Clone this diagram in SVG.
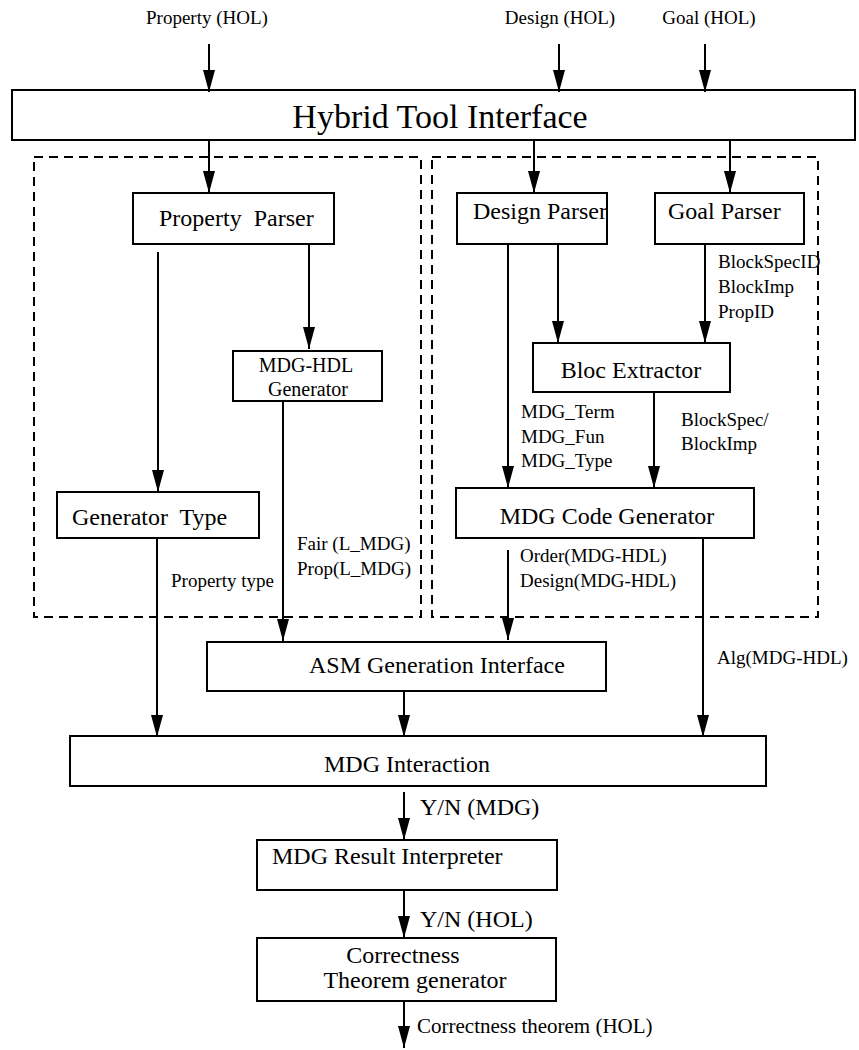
<svg xmlns="http://www.w3.org/2000/svg" width="859" height="1050" viewBox="0 0 859 1050">
<style>
  .box { fill: #ffffff; stroke: #000000; stroke-width: 2; }
  .dash { fill: none; stroke: #000000; stroke-width: 2; stroke-dasharray: 9 6; }
  .conn line { stroke: #000000; stroke-width: 2; marker-end: url(#arr); }
  text { font-family: "Liberation Serif", "Times New Roman", serif; fill: #000000; }
  .big { font-size: 34px; }
  .lbl { font-size: 24px; }
  .two { font-size: 20px; }
  .top { font-size: 19px; }
  .sm { font-size: 19px; }
  .mid { text-anchor: middle; }
</style>
<defs>
  <marker id="arr" markerUnits="userSpaceOnUse" markerWidth="22" markerHeight="12" refX="22" refY="6" orient="auto">
    <path d="M0,0 L22,6 L0,12 z" fill="#000000"/>
  </marker>
</defs>
<rect width="859" height="1050" fill="#ffffff"/>

<g id="groups">
  <rect class="dash" x="34" y="157" width="387" height="460"/>
  <rect class="dash" x="432" y="157" width="386" height="460"/>
</g>

<g id="inputs">
  <text class="top mid" x="207" y="24">Property (HOL)</text>
  <text class="top mid" x="560" y="24">Design (HOL)</text>
  <text class="top mid" x="709" y="24">Goal (HOL)</text>
</g>

<g id="hybrid-tool-interface">
  <rect class="box" x="12" y="90" width="843" height="50"/>
  <text class="big mid" x="440" y="128">Hybrid Tool Interface</text>
</g>

<g id="property-parser">
  <rect class="box" x="133" y="193" width="201" height="51"/>
  <text class="lbl" x="159" y="226" word-spacing="6">Property Parser</text>
</g>

<g id="design-parser">
  <rect class="box" x="457" y="193" width="150" height="51"/>
  <text class="lbl" x="473" y="219">Design Parser</text>
</g>

<g id="goal-parser">
  <rect class="box" x="655" y="193" width="149" height="51"/>
  <text class="lbl" x="668" y="219">Goal Parser</text>
</g>

<g id="mdg-hdl-generator">
  <rect class="box" x="233" y="351" width="149" height="50"/>
  <text class="two mid" x="306" y="372">MDG-HDL</text>
  <text class="two mid" x="308" y="396">Generator</text>
</g>

<g id="bloc-extractor">
  <rect class="box" x="533" y="343" width="197" height="49"/>
  <text class="lbl mid" x="631" y="378">Bloc Extractor</text>
</g>

<g id="generator-type">
  <rect class="box" x="57" y="492" width="202" height="46"/>
  <text class="lbl" x="72" y="525" word-spacing="6">Generator Type</text>
</g>

<g id="mdg-code-generator">
  <rect class="box" x="456" y="488" width="298" height="50"/>
  <text class="lbl mid" x="607" y="524">MDG Code Generator</text>
</g>

<g id="asm-generation-interface">
  <rect class="box" x="207" y="642" width="399" height="49"/>
  <text class="lbl" x="309" y="673">ASM Generation Interface</text>
</g>

<g id="mdg-interaction">
  <rect class="box" x="70" y="736" width="696" height="50"/>
  <text class="lbl mid" x="407" y="772">MDG Interaction</text>
</g>

<g id="mdg-result-interpreter">
  <rect class="box" x="257" y="840" width="300" height="50"/>
  <text class="lbl" x="272" y="864">MDG Result Interpreter</text>
</g>

<g id="correctness-theorem-generator">
  <rect class="box" x="257" y="938" width="299" height="63"/>
  <text class="lbl mid" x="403" y="963">Correctness</text>
  <text class="lbl mid" x="415" y="988">Theorem generator</text>
</g>

<g id="connectors" class="conn">
  <line x1="209" y1="44" x2="209" y2="92"/>
  <line x1="559" y1="44" x2="559" y2="92"/>
  <line x1="705" y1="44" x2="705" y2="92"/>
  <line x1="209" y1="140" x2="209" y2="193"/>
  <line x1="534" y1="140" x2="534" y2="193"/>
  <line x1="730" y1="140" x2="730" y2="193"/>
  <line x1="158" y1="252" x2="158" y2="492"/>
  <line x1="309" y1="244" x2="309" y2="349"/>
  <line x1="283" y1="401" x2="283" y2="641"/>
  <line x1="508" y1="244" x2="508" y2="488"/>
  <line x1="558" y1="244" x2="558" y2="343"/>
  <line x1="705" y1="244" x2="705" y2="343"/>
  <line x1="654" y1="392" x2="654" y2="488"/>
  <line x1="508" y1="550" x2="508" y2="640"/>
  <line x1="703" y1="538" x2="703" y2="737"/>
  <line x1="157" y1="538" x2="157" y2="737"/>
  <line x1="404" y1="691" x2="404" y2="737"/>
  <line x1="404" y1="792" x2="404" y2="840"/>
  <line x1="404" y1="890" x2="404" y2="938"/>
  <line x1="404" y1="1001" x2="404" y2="1048"/>
</g>

<g id="connector-labels">
  <text class="sm" x="718" y="268">BlockSpecID</text>
  <text class="sm" x="718" y="293">BlockImp</text>
  <text class="sm" x="718" y="318">PropID</text>
  <text class="sm" x="521" y="418">MDG_Term</text>
  <text class="sm" x="521" y="443">MDG_Fun</text>
  <text class="sm" x="521" y="467">MDG_Type</text>
  <text class="sm" x="681" y="426">BlockSpec/</text>
  <text class="sm" x="681" y="450">BlockImp</text>
  <text class="sm" x="297" y="550">Fair (L_MDG)</text>
  <text class="sm" x="297" y="575">Prop(L_MDG)</text>
  <text class="sm" x="171" y="587">Property type</text>
  <text class="sm" x="520" y="562">Order(MDG-HDL)</text>
  <text class="sm" x="520" y="587">Design(MDG-HDL)</text>
  <text class="sm" x="717" y="664">Alg(MDG-HDL)</text>
  <text class="lbl" x="420" y="815">Y/N (MDG)</text>
  <text class="lbl" x="420" y="927">Y/N (HOL)</text>
  <text class="sm" x="417" y="1033" style="font-size:21px">Correctness theorem (HOL)</text>
</g>
</svg>
